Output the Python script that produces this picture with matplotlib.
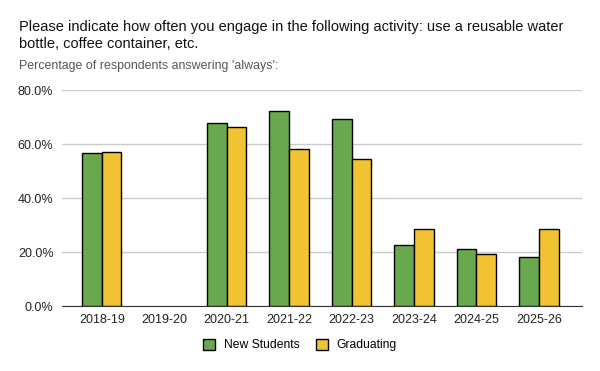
import numpy as np
import matplotlib.pyplot as plt
from matplotlib.ticker import FuncFormatter

plt.rcParams['font.family'] = ['Liberation Sans', 'DejaVu Sans']

years = ['2018-19', '2019-20', '2020-21', '2021-22', '2022-23', '2023-24', '2024-25', '2025-26']
new_students = [56.7, np.nan, 67.8, 72.1, 69.3, 22.6, 21.3, 18.0]
graduating = [57.0, np.nan, 66.3, 58.1, 54.4, 28.5, 19.3, 28.5]

green = '#6aa84f'
yellow = '#f1c232'

fig = plt.figure(figsize=(6, 3.71), dpi=100)
ax = fig.add_axes([0.103, 0.175, 0.867, 0.582])

x = np.arange(len(years))
w = 0.315
ax.bar(x - w / 2, new_students, w, color=green, edgecolor='black', linewidth=1, label='New Students', zorder=3)
ax.bar(x + w / 2, graduating, w, color=yellow, edgecolor='black', linewidth=1, label='Graduating', zorder=3)

ax.set_ylim(0, 80)
ax.set_xlim(-0.64, 7.69)
ax.set_yticks([0, 20, 40, 60, 80])
ax.yaxis.set_major_formatter(FuncFormatter(lambda v, p: f'{v:.1f}%'))
ax.set_xticks(x)
ax.set_xticklabels(years)
ax.grid(axis='y', color='#cccccc', linewidth=1, zorder=0)
for s in ['top', 'right', 'left']:
    ax.spines[s].set_visible(False)
ax.spines['bottom'].set_color('#333333')
ax.tick_params(length=0, labelsize=9, colors='#222222')
ax.tick_params(axis='x', pad=6)
ax.tick_params(axis='y', pad=6)

fig.text(0.032, 0.905, 'Please indicate how often you engage in the following activity: use a reusable water\nbottle, coffee container, etc.',
         fontsize=10.5, color='#111111', va='center', linespacing=1.25)
fig.text(0.032, 0.822, "Percentage of respondents answering 'always':", fontsize=8.9, color='#555555', va='center')

fig.legend(loc='center', bbox_to_anchor=(0.5, 0.07), ncol=2, frameon=False, fontsize=8.7,
           handlelength=1.0, handleheight=1.0, columnspacing=1.4, handletextpad=0.7)

fig.savefig('out.png', dpi=100, facecolor='white')
